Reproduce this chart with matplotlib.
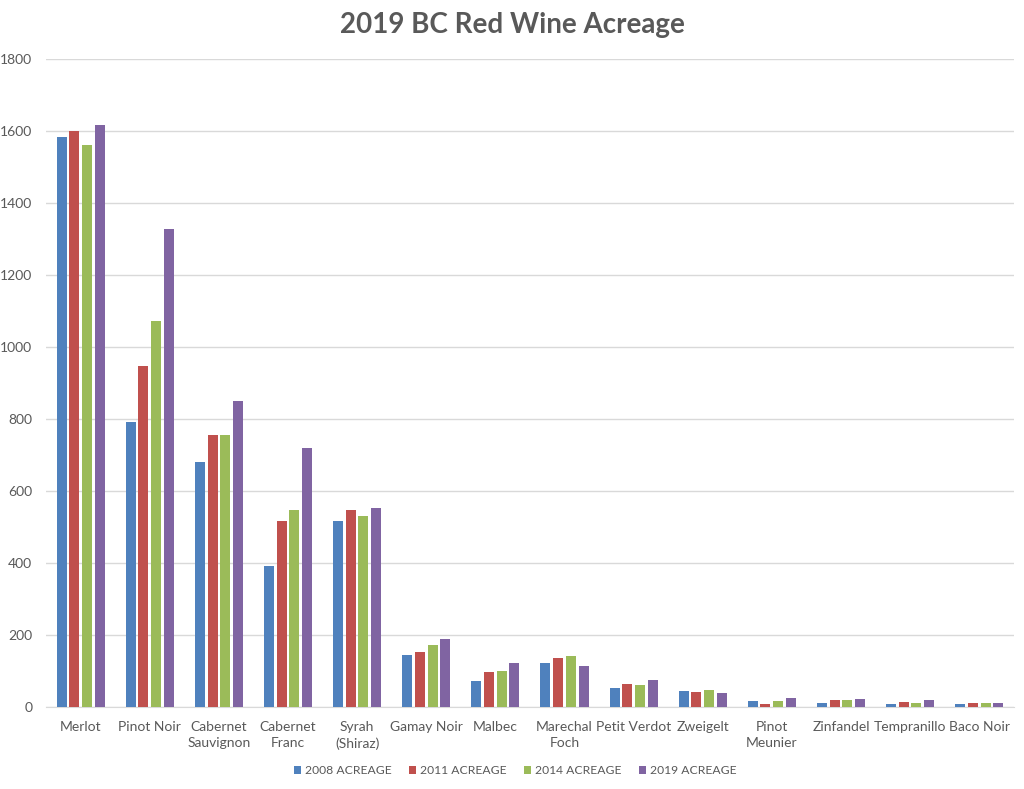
import matplotlib
matplotlib.use('Agg')
from matplotlib import pyplot
import numpy

# Acreage by grape variety
varieties = ['Merlot', 'Pinot Noir', 'Cabernet\nSauvignon', 'Cabernet\nFranc', 'Syrah\n(Shiraz)',
             'Gamay Noir', 'Malbec', 'Marechal\nFoch', 'Petit Verdot', 'Zweigelt',
             'Pinot\nMeunier', 'Zinfandel', 'Tempranillo', 'Baco Noir']
acre2008 = [1583, 792, 680, 391, 518, 143, 71, 121, 54, 43, 17, 12, 9, 9]
acre2011 = [1600, 947, 755, 518, 547, 153, 96, 137, 65, 41, 9, 18, 14, 12]
acre2014 = [1561, 1072, 755, 547, 530, 172, 101, 141, 62, 46, 17, 20, 11, 12]
acre2019 = [1617, 1328, 850, 719, 553, 190, 121, 115, 76, 39, 24, 21, 18, 12]
series_names = ['2008 ACREAGE', '2011 ACREAGE', '2014 ACREAGE', '2019 ACREAGE']
yticks = [0, 200, 400, 600, 800, 1000, 1200, 1400, 1600, 1800]

colors = ['#4F81BD', '#C0504D', '#9BBB59', '#8064A2']
textgrey = '#595959'
pyplot.rcParams['font.family'] = ['Lato', 'DejaVu Sans']

fig = pyplot.figure(figsize=(10.24, 7.89), dpi=100)
ax = fig.add_axes([0.045, 0.104, 0.945, 0.821])

x = numpy.arange(len(varieties))
step = 0.184
width = 0.145
for idx, vals in enumerate([acre2008, acre2011, acre2014, acre2019]):
    ax.bar(x + (idx - 1.5) * step, vals, width=width, color=colors[idx],
           label=series_names[idx], zorder=3)

ax.set_xlim(-0.5, len(varieties) - 0.5)
ax.set_ylim(0, 1800)
ax.set_yticks(yticks)
ax.set_xticks(x)
ax.set_xticklabels(varieties, linespacing=1.4, multialignment='center')
ax.tick_params(axis='both', length=0, labelsize=10, colors=textgrey)
ax.tick_params(axis='x', pad=10)
ax.tick_params(axis='y', pad=10)
ax.grid(axis='y', color='#D9D9D9', linewidth=1, zorder=0)
for side in ['top', 'right', 'left']:
    ax.spines[side].set_visible(False)
ax.spines['bottom'].set_color('#D9D9D9')

fig.suptitle('2019 BC Red Wine Acreage', x=0.5, y=0.985, fontsize=20,
             fontweight='bold', color=textgrey)

leg = fig.legend(loc='center', bbox_to_anchor=(0.503, 0.023), ncol=4, frameon=False,
                 fontsize=8.7, handlelength=0.6, handleheight=0.6, handletextpad=0.3,
                 columnspacing=1.45)
for t in leg.get_texts():
    t.set_color(textgrey)

pyplot.savefig('out.png', dpi=100)
